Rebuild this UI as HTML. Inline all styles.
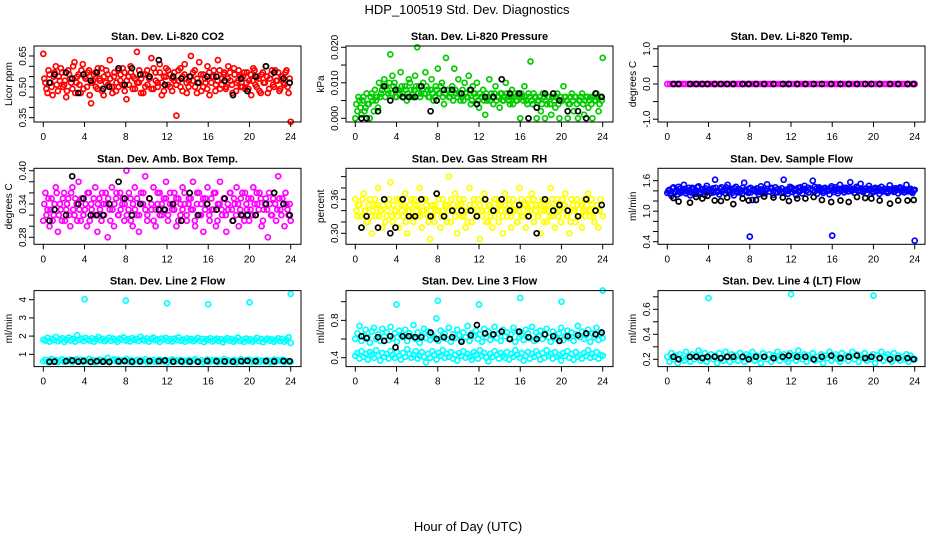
<!DOCTYPE html>
<html><head><meta charset="utf-8"><style>
html,body{margin:0;padding:0;background:#fff;}
svg{display:block;font-family:"Liberation Sans",sans-serif;}
</style></head><body>
<svg id="chart" width="936" height="540" viewBox="0 0 936 540">
<text x="467" y="14" font-size="13" text-anchor="middle">HDP_100519  Std. Dev. Diagnostics</text>
<text x="468" y="531" font-size="13" text-anchor="middle">Hour of Day (UTC)</text>
</svg>
<script>
const xTicks=[0,4,8,12,16,20,24];
const blackHours=[0.6,1.1,2.2,2.8,3.4,3.9,4.6,5.2,5.8,6.4,7.3,7.9,8.6,9.4,10.3,11.2,11.8,12.6,13.4,14.2,15.0,15.9,16.8,17.6,18.4,19.2,19.8,20.6,21.6,22.4,23.3,23.9];
const outlierHours=[4,8,12,16,20,24];
const co2Vals=[0.66,0.52,0.47,0.56,0.50,0.55,0.60,0.48,0.53,0.57,0.51,0.45,0.58,0.54,0.49,0.62,0.52,0.56,0.47,0.61,0.55,0.50,0.58,0.42,0.53,0.57,0.49,0.54,0.59,0.46,0.52,0.56,0.63,0.50,0.55,0.48,0.58,0.53,0.51,0.57,0.44,0.55,0.60,0.49,0.54,0.67,0.52,0.47,0.56,0.50,0.58,0.54,0.64,0.49,0.57,0.52,0.61,0.46,0.55,0.59,0.51,0.56,0.48,0.53,0.36,0.58,0.50,0.55,0.61,0.47,0.53,0.65,0.57,0.50,0.54,0.62,0.48,0.56,0.52,0.60,0.46,0.55,0.58,0.51,0.63,0.49,0.54,0.57,0.50,0.60,0.53,0.47,0.56,0.52,0.58,0.50,0.55,0.49,0.57,0.53,0.46,0.59,0.51,0.55,0.48,0.56,0.52,0.60,0.47,0.54,0.58,0.50,0.53,0.57,0.49,0.55,0.51,0.58,0.47,0.33];
const co2Vals2=[0.54,0.49,0.58,0.52,0.46,0.57,0.51,0.55,0.59,0.50,0.53,0.48,0.56,0.52,0.60,0.47,0.55,0.51,0.58,0.49,0.54,0.57,0.46,0.52,0.56,0.50,0.59,0.53,0.48,0.55,0.58,0.51,0.54,0.47,0.57,0.52,0.50,0.56,0.59,0.48,0.53,0.51,0.57,0.55,0.49,0.52,0.58,0.54,0.47,0.56,0.51,0.55,0.49,0.59,0.53,0.50,0.57,0.52,0.48,0.55,0.58,0.50,0.54,0.57,0.51,0.53,0.59,0.48,0.56,0.52,0.50,0.55,0.53,0.58,0.47,0.52,0.56,0.50,0.54,0.49,0.57,0.52,0.55,0.48,0.53,0.58,0.51,0.56,0.49,0.54,0.57,0.51,0.59,0.48,0.53,0.55,0.50,0.57,0.52,0.49,0.56,0.53,0.58,0.50,0.54,0.47,0.57,0.52,0.55,0.49,0.56,0.51,0.58,0.53,0.48,0.55,0.52,0.57,0.50,0.54];
const co2Black=[0.52,0.56,0.57,0.54,0.47,0.56,0.53,0.57,0.49,0.50,0.59,0.51,0.59,0.56,0.55,0.63,0.51,0.55,0.54,0.55,0.52,0.55,0.55,0.53,0.46,0.54,0.48,0.55,0.60,0.57,0.54,0.52];
const presVals=[0.000,0.002,0.005,0.001,0.006,0.003,0.004,0.000,0.007,0.002,0.005,0.003,0.006,0.008,0.011,0.009,0.007,0.018,0.012,0.010,0.006,0.008,0.013,0.007,0.009,0.005,0.011,0.008,0.006,0.012,0.020,0.009,0.007,0.010,0.013,0.008,0.006,0.011,0.005,0.009,0.014,0.007,0.010,0.004,0.017,0.008,0.006,0.009,0.014,0.007,0.011,0.005,0.008,0.010,0.006,0.012,0.004,0.009,0.007,0.010,0.003,0.006,0.008,0.001,0.005,0.011,0.007,0.004,0.009,0.006,0.003,0.007,0.005,0.010,0.006,0.004,0.008,0.006,0.005,0.007,0.000,0.006,0.009,0.005,0.007,0.016,0.004,0.006,0.000,0.005,0.002,0.007,0.000,0.004,0.006,0.001,0.006,0.003,0.007,0.000,0.005,0.009,0.006,0.000,0.004,0.007,0.002,0.006,0.000,0.005,0.007,0.001,0.006,0.003,0.006,0.000,0.005,0.007,0.002,0.006,0.017];
const presVals2=[0.004,0.006,0.003,0.005,0.002,0.007,0.004,0.006,0.005,0.008,0.006,0.010,0.007,0.009,0.006,0.008,0.010,0.007,0.009,0.006,0.008,0.007,0.009,0.006,0.008,0.007,0.010,0.006,0.008,0.009,0.007,0.006,0.008,0.007,0.009,0.006,0.008,0.007,0.006,0.008,0.007,0.009,0.006,0.007,0.008,0.006,0.007,0.005,0.008,0.006,0.007,0.006,0.005,0.007,0.006,0.008,0.005,0.007,0.006,0.005,0.007,0.006,0.005,0.007,0.006,0.005,0.006,0.007,0.005,0.006,0.007,0.005,0.006,0.007,0.005,0.006,0.004,0.007,0.005,0.006,0.007,0.005,0.006,0.004,0.006,0.005,0.007,0.006,0.005,0.006,0.004,0.006,0.005,0.006,0.004,0.006,0.005,0.006,0.004,0.006,0.005,0.006,0.005,0.004,0.006,0.005,0.006,0.004,0.005,0.006,0.004,0.005,0.006,0.005,0.004,0.006,0.005,0.006,0.004,0.005];
const presBlack=[0.000,0.000,0.002,0.009,0.005,0.008,0.006,0.006,0.006,0.009,0.002,0.005,0.008,0.008,0.007,0.008,0.004,0.006,0.006,0.011,0.007,0.007,0.000,0.003,0.007,0.007,0.005,0.002,0.002,0.000,0.007,0.006];
const tempVals=[0,0,0,0,0,0,0,0,0,0,0,0,0,0,0,0,0,0,0,0,0,0,0,0,0,0,0,0,0,0,0,0,0,0,0,0,0,0,0,0,0,0,0,0,0,0,0,0,0,0,0,0,0,0,0,0,0,0,0,0,0,0,0,0,0,0,0,0,0,0,0,0,0,0,0,0,0,0,0,0,0,0,0,0,0,0,0,0,0,0,0,0,0,0,0,0,0];
const tempBlack=[0,0,0,0,0,0,0,0,0,0,0,0,0,0,0,0,0,0,0,0,0,0,0,0,0,0,0,0,0,0,0,0];
const ambVals=[0.31,0.36,0.33,0.30,0.35,0.32,0.37,0.29,0.34,0.31,0.36,0.33,0.35,0.30,0.37,0.32,0.34,0.38,0.31,0.35,0.33,0.30,0.36,0.34,0.32,0.37,0.29,0.35,0.31,0.34,0.36,0.28,0.33,0.37,0.30,0.35,0.32,0.36,0.34,0.31,0.40,0.33,0.35,0.30,0.37,0.32,0.29,0.36,0.34,0.39,0.31,0.35,0.33,0.37,0.30,0.34,0.36,0.32,0.35,0.38,0.31,0.34,0.33,0.36,0.30,0.35,0.32,0.37,0.34,0.31,0.35,0.33,0.38,0.30,0.36,0.32,0.34,0.29,0.35,0.37,0.31,0.33,0.36,0.30,0.34,0.38,0.32,0.35,0.29,0.33,0.36,0.31,0.34,0.37,0.30,0.35,0.32,0.36,0.33,0.31,0.35,0.37,0.32,0.34,0.36,0.30,0.33,0.35,0.28,0.34,0.32,0.36,0.31,0.39,0.33,0.35,0.30,0.34,0.32,0.31];
const ambVals2=[0.34,0.32,0.35,0.33,0.31,0.34,0.36,0.32,0.33,0.35,0.31,0.34,0.32,0.36,0.33,0.35,0.31,0.33,0.35,0.32,0.34,0.36,0.31,0.33,0.35,0.32,0.34,0.33,0.36,0.32,0.34,0.35,0.31,0.33,0.34,0.36,0.32,0.33,0.35,0.34,0.32,0.36,0.31,0.34,0.33,0.35,0.32,0.34,0.36,0.33,0.32,0.35,0.34,0.31,0.33,0.36,0.32,0.34,0.33,0.35,0.32,0.36,0.34,0.33,0.35,0.31,0.34,0.33,0.36,0.32,0.34,0.35,0.33,0.31,0.34,0.36,0.32,0.35,0.33,0.34,0.32,0.35,0.33,0.36,0.31,0.34,0.33,0.35,0.32,0.34,0.36,0.33,0.35,0.32,0.34,0.33,0.36,0.31,0.34,0.35,0.33,0.32,0.34,0.36,0.33,0.35,0.31,0.34,0.33,0.36,0.32,0.35,0.34,0.33,0.35,0.32,0.34,0.36,0.33,0.34];
const ambBlack=[0.31,0.33,0.32,0.39,0.34,0.35,0.32,0.32,0.32,0.34,0.38,0.35,0.32,0.34,0.35,0.33,0.33,0.34,0.31,0.36,0.32,0.34,0.33,0.35,0.31,0.32,0.32,0.32,0.34,0.36,0.34,0.32];
const rhVals=[0.36,0.33,0.35,0.31,0.37,0.34,0.32,0.36,0.30,0.35,0.33,0.38,0.34,0.31,0.36,0.33,0.35,0.39,0.32,0.34,0.36,0.31,0.35,0.33,0.37,0.30,0.34,0.36,0.32,0.35,0.33,0.38,0.31,0.34,0.36,0.33,0.29,0.35,0.32,0.37,0.34,0.31,0.36,0.33,0.35,0.40,0.32,0.34,0.37,0.30,0.35,0.33,0.36,0.31,0.34,0.38,0.32,0.35,0.33,0.36,0.29,0.34,0.37,0.32,0.35,0.33,0.31,0.36,0.34,0.32,0.35,0.30,0.37,0.33,0.35,0.31,0.36,0.34,0.32,0.38,0.33,0.35,0.31,0.36,0.34,0.37,0.32,0.35,0.33,0.30,0.36,0.34,0.32,0.35,0.38,0.33,0.31,0.36,0.34,0.32,0.35,0.37,0.33,0.30,0.36,0.34,0.32,0.35,0.33,0.31,0.36,0.34,0.37,0.33,0.35,0.32,0.34,0.31,0.36,0.33];
const rhVals2=[0.34,0.35,0.33,0.36,0.34,0.32,0.35,0.33,0.34,0.36,0.35,0.33,0.34,0.35,0.32,0.34,0.36,0.33,0.35,0.34,0.33,0.36,0.34,0.35,0.32,0.34,0.35,0.33,0.36,0.34,0.35,0.33,0.34,0.36,0.35,0.32,0.34,0.33,0.35,0.34,0.36,0.33,0.34,0.35,0.32,0.34,0.36,0.35,0.33,0.34,0.36,0.35,0.33,0.34,0.32,0.35,0.34,0.36,0.33,0.34,0.35,0.33,0.36,0.34,0.32,0.35,0.34,0.33,0.36,0.35,0.34,0.33,0.35,0.34,0.36,0.33,0.34,0.35,0.32,0.34,0.36,0.33,0.35,0.34,0.33,0.35,0.36,0.34,0.33,0.35,0.34,0.32,0.35,0.34,0.33,0.36,0.34,0.35,0.33,0.34,0.36,0.35,0.33,0.34,0.32,0.35,0.34,0.36,0.33,0.35,0.34,0.33,0.35,0.34,0.36,0.33,0.34,0.35,0.34,0.35];
const rhBlack=[0.31,0.33,0.31,0.36,0.30,0.31,0.36,0.33,0.33,0.36,0.33,0.37,0.33,0.34,0.34,0.34,0.33,0.36,0.34,0.36,0.34,0.35,0.33,0.30,0.36,0.34,0.35,0.34,0.33,0.36,0.34,0.35];
const flowVals=[1.36,1.42,1.30,1.47,1.38,1.33,1.44,1.40,1.52,1.35,1.41,1.31,1.46,1.39,1.34,1.49,1.37,1.43,1.32,1.50,1.40,1.36,1.45,1.62,1.38,1.33,1.47,1.41,1.35,1.52,1.39,1.44,1.31,1.48,1.37,1.42,1.34,1.56,1.40,1.36,1.46,1.22,1.43,1.38,1.33,1.49,1.41,1.35,1.53,1.39,1.44,1.32,1.47,1.37,1.42,1.36,1.62,1.40,1.34,1.48,1.38,1.43,1.31,1.46,1.40,1.35,1.50,1.41,1.37,1.44,1.60,1.39,1.34,1.47,1.42,1.36,1.45,1.40,1.33,1.49,1.38,1.43,1.35,1.52,1.41,1.37,1.46,1.39,1.57,1.42,1.36,1.48,1.40,1.54,1.38,1.44,1.35,1.50,1.42,1.37,1.46,1.40,1.34,1.48,1.39,1.43,1.36,1.51,1.41,1.38,1.45,1.35,1.47,1.40,1.37,1.52,1.39,1.44,1.36,1.42];
const flowVals2=[1.40,1.35,1.45,1.38,1.42,1.48,1.36,1.41,1.44,1.39,1.46,1.37,1.43,1.40,1.47,1.36,1.42,1.39,1.45,1.38,1.43,1.41,1.37,1.46,1.40,1.44,1.38,1.42,1.47,1.39,1.41,1.36,1.45,1.40,1.43,1.38,1.46,1.41,1.39,1.44,1.37,1.42,1.40,1.45,1.38,1.43,1.36,1.41,1.44,1.39,1.46,1.40,1.37,1.43,1.41,1.45,1.38,1.42,1.40,1.44,1.46,1.41,1.43,1.39,1.47,1.42,1.44,1.40,1.46,1.43,1.41,1.48,1.45,1.42,1.44,1.40,1.46,1.43,1.41,1.45,1.42,1.47,1.40,1.44,1.42,1.46,1.41,1.43,1.45,1.40,1.44,1.42,1.46,1.41,1.43,1.40,1.45,1.42,1.44,1.39,1.43,1.41,1.45,1.40,1.42,1.44,1.39,1.43,1.41,1.45,1.40,1.42,1.44,1.39,1.43,1.41,1.40,1.42,1.39,1.41];
const flowOutliers=[0.50,0.52,0.42];
const flowOutHours=[8,16,24];
const flowBlack=[1.26,1.19,1.17,1.28,1.25,1.30,1.21,1.20,1.27,1.14,1.25,1.21,1.22,1.29,1.27,1.27,1.20,1.25,1.25,1.28,1.22,1.18,1.21,1.18,1.28,1.26,1.25,1.21,1.15,1.21,1.21,1.22];
const l2HighVals=[1.80,1.75,1.90,1.70,1.85,1.78,1.95,1.72,1.82,1.88,1.68,1.80,1.92,1.76,1.84,1.70,2.05,1.79,1.86,1.73,1.90,1.81,1.75,1.88,1.70,1.83,1.95,1.77,1.85,1.72,1.80,1.91,1.74,1.86,1.78,1.69,1.87,1.81,1.93,1.75,1.83,1.71,1.89,1.79,1.85,1.73,1.96,1.80,1.76,1.88,1.70,1.84,1.92,1.77,1.82,1.68,1.87,1.79,1.90,1.74,1.83,1.71,1.86,1.78,1.93,1.75,1.81,1.69,1.88,1.77,1.84,1.72,1.80,1.90,1.74,1.85,1.67,1.82,1.78,1.88,1.71,1.79,1.86,1.73,1.83,1.66,1.80,1.89,1.75,1.84,1.70,1.78,1.92,1.73,1.81,1.68,1.87,1.76,1.83,1.70,1.79,1.90,1.72,1.84,1.67,1.80,1.86,1.74,1.82,1.69,1.78,1.88,1.73,1.85,1.70,1.80,1.94,1.62];
const l2LowVals=[0.62,0.70,0.58,0.66,0.74,0.60,0.68,0.56,0.64,0.72,0.59,0.67,0.63,0.71,0.57,0.65,0.73,0.61,0.69,0.58,0.66,0.62,0.75,0.60,0.68,0.56,0.64,0.71,0.59,0.67,0.63,0.80,0.57,0.65,0.72,0.61,0.69,0.58,0.66,0.62,0.74,0.60,0.68,0.56,0.64,0.70,0.59,0.67,0.63,0.73,0.57,0.65,0.61,0.69,0.58,0.66,0.71,0.62,0.60,0.68,0.56,0.64,0.72,0.59,0.67,0.63,0.70,0.57,0.65,0.61,0.69,0.58,0.66,0.73,0.62,0.60,0.68,0.56,0.64,0.71,0.59,0.67,0.63,0.70,0.57,0.65,0.61,0.74,0.58,0.66,0.62,0.60,0.68,0.56,0.64,0.72,0.59,0.67,0.63,0.70,0.57,0.65,0.61,0.69,0.58,0.66,0.62,0.60,0.68,0.56,0.64,0.71,0.59,0.67,0.63,0.70,0.57,0.65,0.61,0.60];
const l2Outliers=[4.02,3.95,3.80,3.75,3.85,4.32];
const l2Black=[0.58,0.60,0.62,0.66,0.60,0.63,0.58,0.62,0.60,0.58,0.61,0.63,0.60,0.61,0.63,0.62,0.66,0.60,0.61,0.60,0.59,0.63,0.62,0.61,0.60,0.62,0.64,0.62,0.63,0.61,0.63,0.62];
const l3HighVals=[0.60,0.66,0.74,0.58,0.64,0.70,0.62,0.56,0.68,0.72,0.60,0.65,0.58,0.71,0.63,0.67,0.59,0.73,0.61,0.66,0.57,0.69,0.64,0.62,0.70,0.58,0.66,0.63,0.75,0.60,0.67,0.56,0.64,0.71,0.61,0.68,0.59,0.65,0.62,0.82,0.58,0.69,0.63,0.66,0.60,0.72,0.57,0.65,0.61,0.70,0.64,0.59,0.67,0.62,0.74,0.58,0.66,0.63,0.69,0.60,0.65,0.57,0.71,0.62,0.68,0.59,0.64,0.73,0.61,0.66,0.58,0.70,0.63,0.67,0.60,0.65,0.72,0.57,0.68,0.62,0.64,0.59,0.70,0.66,0.61,0.73,0.58,0.67,0.63,0.69,0.60,0.65,0.71,0.62,0.57,0.68,0.64,0.60,0.66,0.72,0.59,0.63,0.69,0.61,0.67,0.58,0.65,0.74,0.62,0.68,0.60,0.64,0.70,0.57,0.66,0.62,0.72,0.59,0.65,0.61];
const l3LowVals=[0.42,0.45,0.39,0.47,0.41,0.44,0.38,0.46,0.43,0.40,0.48,0.42,0.37,0.45,0.41,0.44,0.39,0.47,0.43,0.40,0.46,0.42,0.38,0.45,0.41,0.49,0.44,0.40,0.43,0.47,0.39,0.42,0.46,0.41,0.35,0.44,0.40,0.47,0.43,0.38,0.45,0.42,0.48,0.40,0.44,0.41,0.46,0.39,0.43,0.37,0.45,0.42,0.47,0.40,0.44,0.41,0.38,0.46,0.43,0.39,0.48,0.42,0.45,0.40,0.36,0.44,0.41,0.47,0.43,0.39,0.45,0.42,0.40,0.46,0.38,0.44,0.41,0.48,0.43,0.40,0.45,0.37,0.42,0.46,0.39,0.44,0.41,0.47,0.43,0.38,0.45,0.40,0.48,0.42,0.44,0.39,0.46,0.41,0.43,0.37,0.45,0.42,0.47,0.40,0.44,0.38,0.46,0.41,0.43,0.39,0.45,0.42,0.48,0.40,0.44,0.41,0.46,0.39,0.43,0.42];
const l3Outliers=[0.97,1.01,0.97,1.04,1.00,1.12];
const l3Black=[0.63,0.61,0.62,0.58,0.63,0.51,0.63,0.63,0.62,0.62,0.67,0.60,0.62,0.62,0.57,0.64,0.75,0.66,0.65,0.68,0.60,0.68,0.62,0.60,0.65,0.63,0.58,0.63,0.64,0.66,0.65,0.67];
const l4Vals=[0.22,0.18,0.25,0.20,0.23,0.17,0.24,0.21,0.19,0.26,0.22,0.18,0.24,0.20,0.23,0.27,0.19,0.22,0.25,0.18,0.21,0.24,0.20,0.23,0.17,0.25,0.21,0.19,0.26,0.22,0.18,0.24,0.20,0.23,0.19,0.25,0.21,0.18,0.24,0.22,0.20,0.26,0.19,0.23,0.21,0.17,0.25,0.22,0.20,0.24,0.18,0.23,0.21,0.26,0.19,0.22,0.24,0.20,0.18,0.25,0.21,0.23,0.19,0.27,0.22,0.20,0.24,0.18,0.23,0.21,0.25,0.19,0.22,0.20,0.24,0.17,0.23,0.21,0.26,0.19,0.22,0.24,0.20,0.18,0.25,0.21,0.23,0.19,0.22,0.26,0.20,0.24,0.18,0.23,0.21,0.25,0.19,0.22,0.20,0.24,0.17,0.23,0.21,0.26,0.19,0.22,0.24,0.20,0.18,0.25,0.21,0.23,0.19,0.22,0.20,0.24,0.18,0.23,0.21,0.20];
const l4Outliers=[0.69,0.72,0.71];
const l4OutHours=[4,12,20];
const l4Black=[0.22,0.20,0.22,0.22,0.21,0.22,0.22,0.21,0.22,0.22,0.22,0.20,0.22,0.22,0.21,0.22,0.23,0.22,0.22,0.20,0.22,0.23,0.21,0.22,0.23,0.21,0.22,0.21,0.20,0.21,0.21,0.20];

const svg=document.getElementById('chart');
const NS='http://www.w3.org/2000/svg';
function mk(tag,attrs,parent){const e=document.createElementNS(NS,tag);for(const k in attrs)e.setAttribute(k,attrs[k]);(parent||svg).appendChild(e);return e;}
function evenHours(arr){return arr.map((v,i)=>i*24/(arr.length-1));}
function offsetHours(arr){return arr.map((v,i)=>(i+0.5)*24/arr.length);}

const panels=[
 {c:0,r:0,title:'Stan. Dev. Li-820 CO2',ylab:'Licor ppm',ref:[0.65,56,0.35,117.7],ticks:[0.35,0.40,0.45,0.50,0.55,0.60,0.65],labels:['0.35','0.50','0.65'],series:[{x:evenHours(co2Vals),y:co2Vals,col:'#ff0000'},{x:offsetHours(co2Vals2),y:co2Vals2,col:'#ff0000'},{x:blackHours,y:co2Black,col:'#000'}]},
 {c:1,r:0,title:'Stan. Dev. Li-820 Pressure',ylab:'kPa',ref:[0,118.3,0.02,47.3],ticks:[0,0.005,0.01,0.015,0.02],labels:['0.000','0.010','0.020'],series:[{x:evenHours(presVals),y:presVals,col:'#00cc00'},{x:offsetHours(presVals2),y:presVals2,col:'#00cc00'},{x:blackHours,y:presBlack,col:'#000'}]},
 {c:2,r:0,title:'Stan. Dev. Li-820 Temp.',ylab:'degrees C',ref:[1,48.8,-1,119.2],ticks:[-1,-0.5,0,0.5,1],labels:['-1.0','0.0','1.0'],series:[{x:evenHours(tempVals),y:tempVals,col:'#ff00ff'},{x:blackHours,y:tempBlack,col:'#000'}]},
 {c:0,r:1,title:'Stan. Dev. Amb. Box Temp.',ylab:'degrees C',ref:[0.40,170.7,0.28,237.3],ticks:[0.28,0.30,0.32,0.34,0.36,0.38,0.40],labels:['0.28','0.34','0.40'],series:[{x:evenHours(ambVals),y:ambVals,col:'#ff00ff'},{x:offsetHours(ambVals2),y:ambVals2,col:'#ff00ff'},{x:blackHours,y:ambBlack,col:'#000'}]},
 {c:1,r:1,title:'Stan. Dev. Gas Stream RH',ylab:'percent',ref:[0.30,233.3,0.36,199.3],ticks:[0.30,0.32,0.34,0.36,0.38,0.40],labels:['0.30','0.36'],series:[{x:evenHours(rhVals),y:rhVals,col:'#ffff00'},{x:offsetHours(rhVals2),y:rhVals2,col:'#ffff00'},{x:blackHours,y:rhBlack,col:'#000'}]},
 {c:2,r:1,title:'Stan. Dev. Sample Flow',ylab:'ml/min',ref:[1.6,180.7,0.4,241.7],ticks:[0.4,0.6,0.8,1.0,1.2,1.4,1.6],labels:['0.4','1.0','1.6'],series:[{x:evenHours(flowVals),y:flowVals,col:'#0000ff'},{x:offsetHours(flowVals2),y:flowVals2,col:'#0000ff'},{x:flowOutHours,y:flowOutliers,col:'#0000ff'},{x:blackHours,y:flowBlack,col:'#000'}]},
 {c:0,r:2,title:'Stan. Dev. Line 2 Flow',ylab:'ml/min',ref:[4,299.7,1,354.3],ticks:[1,2,3,4],labels:['1','2','3','4'],series:[{x:evenHours(l2HighVals),y:l2HighVals,col:'#00ffff'},{x:evenHours(l2LowVals),y:l2LowVals,col:'#00ffff'},{x:outlierHours,y:l2Outliers,col:'#00ffff'},{x:blackHours,y:l2Black,col:'#000'}]},
 {c:1,r:2,title:'Stan. Dev. Line 3 Flow',ylab:'ml/min',ref:[0.4,357.7,1.0,301.7],ticks:[0.4,0.6,0.8,1.0],labels:['0.4','0.8'],series:[{x:evenHours(l3HighVals),y:l3HighVals,col:'#00ffff'},{x:evenHours(l3LowVals),y:l3LowVals,col:'#00ffff'},{x:outlierHours,y:l3Outliers,col:'#00ffff'},{x:blackHours,y:l3Black,col:'#000'}]},
 {c:2,r:2,title:'Stan. Dev. Line 4 (LT) Flow',ylab:'ml/min',ref:[0.2,359.3,0.6,309.3],ticks:[0.2,0.3,0.4,0.5,0.6,0.7],labels:['0.2','0.4','0.6'],series:[{x:evenHours(l4Vals),y:l4Vals,col:'#00ffff'},{x:l4OutHours,y:l4Outliers,col:'#00ffff'},{x:blackHours,y:l4Black,col:'#000'}]}
];

panels.forEach((p,pi)=>{
  const left=34+312*p.c,right=301+312*p.c,top=46+122.3*p.r,bot=122+122.3*p.r;
  const g=mk('g',{});
  
  
  const xs=h=>43.3+312*p.c+h*(247.4/24);
  const [v1,y1,v2,y2]=p.ref;
  const ys=v=>y1+(v-v1)*(y2-y1)/(v2-v1);
  const t=mk('text',{x:(left+right)/2,y:top-6,'font-size':'11','font-weight':'bold','text-anchor':'middle'},g);
  t.textContent=p.title;
  
  
  const yl=mk('text',{x:0,y:0,'font-size':'10','text-anchor':'middle',transform:`translate(${left-22},${(top+bot)/2}) rotate(-90)`},g);
  yl.textContent=p.ylab;
  
  
  const pg=mk('g',{fill:'none','stroke-width':'1.7'},g);
  
  
  p.series.forEach(s=>{
    s.y.forEach((v,i)=>{
      const c=mk('circle',{cx:xs(s.x[i]).toFixed(1),cy:ys(v).toFixed(1),r:'2.5',stroke:s.col},pg);
      
      
    });
  });
  const box=mk('rect',{x:left,y:top,width:right-left,height:bot-top,fill:'none',stroke:'#000','stroke-width':'1'},g);
  
  
  xTicks.forEach(h=>{
    mk('line',{x1:xs(h),x2:xs(h),y1:bot,y2:bot+5,stroke:'#000'},g);
    const tl=mk('text',{x:xs(h),y:bot+18,'font-size':'10','text-anchor':'middle'},g);
    tl.textContent=h;
    
    
  });
  p.ticks.forEach(v=>{mk('line',{x1:left-5,x2:left,y1:ys(v),y2:ys(v),stroke:'#000'},g);});
  p.labels.forEach(s=>{
    const yt=mk('text',{x:0,y:0,'font-size':'10','text-anchor':'middle',transform:`translate(${left-8},${ys(parseFloat(s))}) rotate(-90)`},g);
    yt.textContent=s;
    
    
  });
});
</script>
</body></html>
